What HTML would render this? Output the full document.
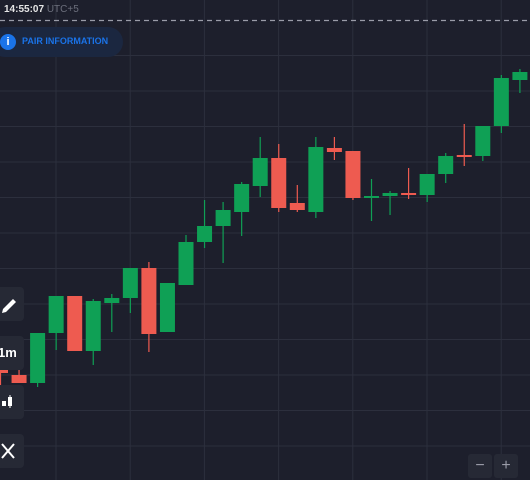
<!DOCTYPE html>
<html><head><meta charset="utf-8"><style>
body{margin:0;background:#1d1f2c;font-family:"Liberation Sans",sans-serif;}
#wrap{position:relative;width:530px;height:480px;overflow:hidden;background:#1d1f2c}
.btn{position:absolute;left:0;width:24px;background:#262935;border-radius:0 4px 4px 0;color:#fff}
</style></head><body>
<div id="wrap">
<svg id="chart" width="530" height="480" style="position:absolute;left:0;top:0"></svg>
<div style="position:absolute;left:4px;top:4px;font-size:10px;font-weight:bold;color:#e6e6e6">14:55:07 <span style="color:#6c6f7c;font-weight:normal">UTC+5</span></div>
<div style="position:absolute;left:-10px;top:27px;width:133px;height:30px;background:#1b2740;border-radius:15px">
 <div style="position:absolute;left:10px;top:7px;width:16px;height:16px;border-radius:8px;background:#1a73e8;color:#fff;font-size:11px;font-weight:bold;text-align:center;line-height:16px">i</div>
 <div style="position:absolute;left:32px;top:9px;font-size:9px;font-weight:bold;color:#1a73e8">PAIR INFORMATION</div>
</div>
<div class="btn" style="top:287px;height:34px"><svg width="24" height="34"><path d="M3 22 L13 12 L16 15 L6 25 L2 26 Z" fill="#fff"/></svg></div>
<div class="btn" style="top:336px;height:34px;font-size:13px;font-weight:bold;line-height:34px;text-indent:-2px">1m</div>
<div class="btn" style="top:385px;height:34px"><svg width="24" height="34"><rect x="2" y="16" width="4" height="5" fill="#fff"/><rect x="8" y="12" width="4" height="9" fill="#fff"/><line x1="10" y1="10" x2="10" y2="23" stroke="#fff"/></svg></div>
<div class="btn" style="top:434px;height:34px"><svg width="24" height="34"><path d="M2 10 L14 24 M2 24 L14 10" stroke="#fff" stroke-width="2"/></svg></div>
<div style="position:absolute;left:468px;top:454px;width:24px;height:24px;background:#262935;border-radius:3px;color:#9a9ca8;font-size:16px;text-align:center;line-height:23px">−</div>
<div style="position:absolute;left:494px;top:454px;width:24px;height:24px;background:#262935;border-radius:3px;color:#9a9ca8;font-size:16px;text-align:center;line-height:23px">+</div>
</div>
<script>
const opens =[120,105,97,147,184,129,177,182,212,148,195,238,254,268,294,322,277,268,332,329,282,284,287,285,306,325,324,354,400];
const closes=[107,97,147,184,129,179,182,212,146,197,238,254,270,296,322,272,270,333,328,282,284,287,285,306,324,324,354,402,408];
const highs =[127,122,147,184,184,181,186,212,218,197,245,280,278,298,343,336,295,343,343,329,301,289,312,306,327,356,354,405,411];
const lows  =[87,97,93,130,129,115,148,167,128,148,195,232,217,244,283,268,268,262,320,280,259,265,281,278,297,314,319,347,387];
const svg=document.getElementById('chart');const NS='http://www.w3.org/2000/svg';
function y(p){return 480-p;}
function x(i){return 0.5+i*18.55;}
function mk(t,a){const e=document.createElementNS(NS,t);for(const k in a)e.setAttribute(k,a[k]);svg.appendChild(e);return e;}
for(let i=0;i<7;i++){const g=mk('line',{x1:56+i*74.2,x2:56+i*74.2,y1:0,y2:480,stroke:'#2c2f3d','stroke-width':1});

}
for(let j=0;j<12;j++){const g=mk('line',{x1:0,x2:530,y1:55.5+j*35.5,y2:55.5+j*35.5,stroke:'#2c2f3d','stroke-width':1});

}
const d=mk('line',{x1:0,x2:530,y1:20.5,y2:20.5,stroke:'#9a9ca8','stroke-width':1.3,'stroke-dasharray':'5,4'});


for(let i=0;i<opens.length;i++){
 const up=closes[i]>=opens[i];const c=up?'#0fa055':'#ee5b50';const cx=x(i);
 const w=mk('line',{x1:cx,x2:cx,y1:y(highs[i]),y2:y(lows[i]),stroke:c,'stroke-width':1.2});
 
 
 const t=y(Math.max(opens[i],closes[i])),b=y(Math.min(opens[i],closes[i]));
 const r=mk('rect',{x:cx-7.5,y:t,width:15,height:Math.max(2,b-t),fill:c});
 
 
}
</script>
</body></html>
